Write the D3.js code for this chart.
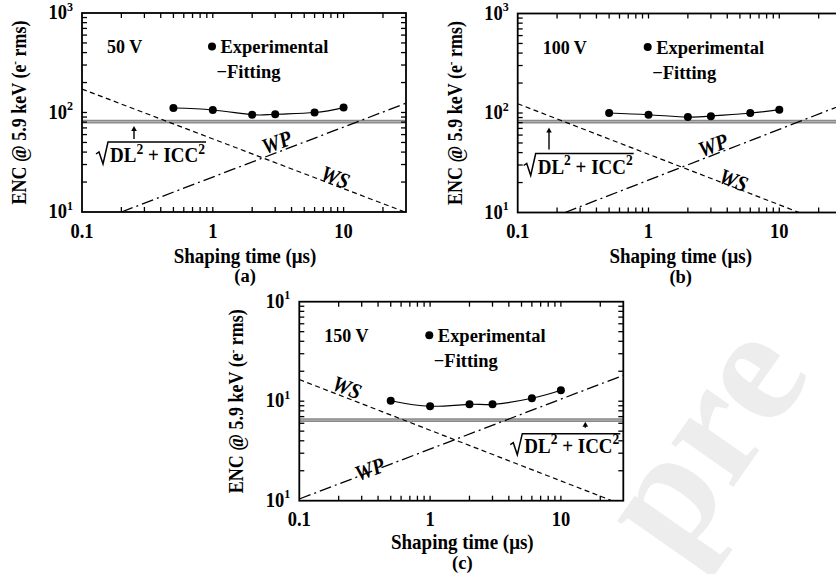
<!DOCTYPE html>
<html><head><meta charset="utf-8">
<script src="https://cdn.jsdelivr.net/npm/d3@7"></script>
<style>
body{margin:0;background:#fff}
svg{display:block}
text{font-family:"Liberation Serif","Times New Roman",serif;font-weight:bold;fill:#000}
</style>
</head><body>
<svg id="chart" width="836" height="574"></svg>
<script>
// ---------- data ----------
const shapingTimes = [0.5, 1, 2, 3, 6, 10];
const encA = [111, 106, 95, 96, 100, 112];
const encB = [100, 96, 91, 93, 100, 108];
const encC = [10.1, 8.9, 9.3, 9.3, 10.7, 12.9];
const dlIcc = [81, 82, 6.45];
const wsXA = [0.1, 30],   wsYA = [172, 9.9];
const wpXA = [0.2, 30],   wpYA = [10, 124];
const wsXB = [0.1, 14.2], wsYB = [124, 10];
const wpXB = [0.23, 30],  wpYB = [10, 120];
const wsXC = [0.1, 24.6], wsYC = [16.5, 1];
const wpXC = [0.1, 30],   wpYC = [1.04, 18.2];
const xTickValues = [0.1, 1, 10];
const xTickLabels = ["0.1", "1", "10"];
const yTicksAB = [10, 100, 1000], yExpAB = ["1", "2", "3"];
const yTicksC = [1, 10, 100],     yExpC = ["1", "1", "1"];
const panelTags = ["(a)", "(b)", "(c)"];
const voltages = ["50 V", "100 V", "150 V"];
const legendLabels = ["Experimental", "\u2212Fitting"];
const watermark = "pre";

// ---------- layout ----------
const W = 324, H = 199;
const svg = d3.select("#chart");

// faint watermark behind the chart
svg.append("text").attr("transform", "translate(678,566) rotate(-55)")
  .attr("font-family", "'Liberation Sans',Arial,sans-serif").attr("font-weight", "bold")
  .attr("font-size", 165).style("fill", "#ededed").text(watermark);

const panels = [
  {tx:82, ty:13, yt:yTicksAB, ye:yExpAB, ydom:[10,1000], enc:encA, hl:dlIcc[0],
   wsx:wsXA, wsy:wsYA, wpx:wpXA, wpy:wpYA, tag:panelTags[0], volt:voltages[0],
   sq:{x:14, base:149, top:129}, arrow:{x:52, y1:126, y2:113},
   wpL:{x:195, y:130}, wsL:{x:253, y:165}, titleY:50.5, tagY:70},
  {tx:517.7, ty:13.5, yt:yTicksAB, ye:yExpAB, ydom:[10,1000], enc:encB, hl:dlIcc[1],
   wsx:wsXB, wsy:wsYB, wpx:wpXB, wpy:wpYB, tag:panelTags[1], volt:voltages[1],
   sq:{x:6, base:160, top:140}, arrow:{x:31.3, y1:136, y2:114},
   wpL:{x:195.6, y:132.5}, wsL:{x:215.6, y:167.5}, titleY:50.5, tagY:70},
  {tx:299.3, ty:301.7, yt:yTicksC, ye:yExpC, ydom:[1,100], enc:encC, hl:dlIcc[2],
   wsx:wsXC, wsy:wsYC, wpx:wpXC, wpy:wpYC, tag:panelTags[2], volt:voltages[2],
   sq:{x:211, base:151, top:132}, arrow:{x:286, y1:126, y2:120},
   wpL:{x:70.7, y:168.3}, wsL:{x:47.4, y:86.6}, titleY:48.5, tagY:68.5}
];

const SY = 1.1; // vertical stretch of the reference lettering
function label(g, x, y, size, opts = {}) {
  const rot = opts.rotate ? ` rotate(${opts.rotate})` : "";
  const sy = opts.sy || SY;
  return g.append("text").attr("transform", `translate(${x},${y})${rot} scale(1,${sy})`)
    .attr("font-size", size).attr("text-anchor", opts.anchor || "start");
}

panels.forEach((p, i) => {
  const g = svg.append("g").attr("transform", `translate(${p.tx},${p.ty})`);
  const x = d3.scaleLog().domain([0.1, 30]).range([0, W]);
  const y = d3.scaleLog().domain(p.ydom).range([H, 0]);

  const clipId = "clip" + i;
  g.append("clipPath").attr("id", clipId).append("rect").attr("width", W).attr("height", H);
  const plot = g.append("g").attr("clip-path", `url(#${clipId})`);

  // DL/ICC horizontal line
  plot.append("line").attr("x1", 0).attr("x2", W).attr("y1", y(p.hl)).attr("y2", y(p.hl))
    .attr("stroke", "#8a8a8a").attr("stroke-width", 3.6);
  plot.append("line").attr("x1", 0).attr("x2", W).attr("y1", y(p.hl)).attr("y2", y(p.hl))
    .attr("stroke", "#b4b4b4").attr("stroke-width", 1);

  const ln = d3.line().x(d => x(d[0])).y(d => y(d[1]));
  // WS dashed
  plot.append("path").attr("d", ln(d3.zip(p.wsx, p.wsy)))
    .attr("fill", "none").attr("stroke", "#000").attr("stroke-width", 1.2).attr("stroke-dasharray", "5,3.5");
  // WP dash-dot
  plot.append("path").attr("d", ln(d3.zip(p.wpx, p.wpy)))
    .attr("fill", "none").attr("stroke", "#000").attr("stroke-width", 1.3).attr("stroke-dasharray", "12,4,2,4");
  // fitting curve
  const pts = d3.zip(shapingTimes, p.enc);
  plot.append("path").attr("d", ln.curve(d3.curveNatural)(pts))
    .attr("fill", "none").attr("stroke", "#000").attr("stroke-width", 1.2);
  plot.selectAll("circle.exp").data(pts).join("circle").attr("class", "exp")
    .attr("cx", d => x(d[0])).attr("cy", d => y(d[1])).attr("r", 4).attr("fill", "#000");

  // frame
  g.append("rect").attr("width", W).attr("height", H).attr("fill", "none")
    .attr("stroke", "#000").attr("stroke-width", 1.8);

  // ticks (inside, all four sides)
  const xAll = x.ticks().filter(v => v > 0.1 && v < 30);
  const tk = g.append("g").attr("stroke", "#000").attr("stroke-width", 1.3);
  xAll.forEach(v => {
    tk.append("line").attr("x1", x(v)).attr("x2", x(v)).attr("y1", H).attr("y2", H - 5);
    tk.append("line").attr("x1", x(v)).attr("x2", x(v)).attr("y1", 0).attr("y2", 5);
  });
  const yAll = y.ticks().filter(v => v > p.ydom[0] && v < p.ydom[1]);
  yAll.forEach(v => {
    tk.append("line").attr("x1", 0).attr("x2", 5).attr("y1", y(v)).attr("y2", y(v));
    tk.append("line").attr("x1", W).attr("x2", W - 5).attr("y1", y(v)).attr("y2", y(v));
  });

  // tick labels
  xTickValues.forEach((v, k) => {
    label(g, x(v), H + 25.5, 18.5, {anchor: "middle"}).text(xTickLabels[k]);
  });
  p.yt.forEach((v, k) => {
    const t = label(g, -9, y(v) + 6, 18.5, {anchor: "end"});
    t.append("tspan").text("10");
    t.append("tspan").attr("dy", -7.5).attr("font-size", 12).text(p.ye[k]);
  });

  // axis titles
  label(g, 163, H + p.titleY, 19, {anchor: "middle", sy: 1.05}).text("Shaping time (\u03bcs)");
  label(g, 163, H + p.tagY, 18.5, {anchor: "middle", sy: 1.0}).text(p.tag);
  const yt = label(g, -56, H / 2, 18, {anchor: "middle", rotate: -90, sy: 1.12});
  yt.append("tspan").text("ENC @ 5.9 keV (e");
  yt.append("tspan").attr("dy", -6).attr("font-size", 11).text("-");
  yt.append("tspan").attr("dy", 6).text(" rms)");

  // voltage + legend
  label(g, 25, 40, 18).text(p.volt);
  g.append("circle").attr("cx", 130).attr("cy", 33.5).attr("r", 4).attr("fill", "#000");
  label(g, 138.5, 40, 18.5, {sy: 1.05}).text(legendLabels[0]);
  label(g, 134.5, 65, 18.5, {sy: 1.05}).text(legendLabels[1]);

  // sqrt label
  const tx0 = p.sq.x + 14;
  const st = label(g, tx0, p.sq.base, 19, {sy: 1.05});
  st.append("tspan").text("DL");
  st.append("tspan").attr("dy", -8).attr("font-size", 13.5).text("2");
  st.append("tspan").attr("dy", 8).text(" + ICC");
  st.append("tspan").attr("dy", -8).attr("font-size", 13.5).text("2");
  const tw = st.node().getComputedTextLength();
  const sx = p.sq.x, b = p.sq.base;
  g.append("path").attr("d", `M${sx},${b-8} L${sx+3},${b-10} L${sx+7},${b+2} L${sx+12},${p.sq.top} H${tx0+tw+1}`)
    .attr("fill", "none").attr("stroke", "#000").attr("stroke-width", 1.5).attr("stroke-linejoin", "miter");

  // arrow
  const a = p.arrow;
  g.append("line").attr("x1", a.x).attr("x2", a.x).attr("y1", a.y1).attr("y2", a.y2 + 3)
    .attr("stroke", "#000").attr("stroke-width", 1.4);
  g.append("path").attr("d", `M${a.x},${a.y2} L${a.x-2.8},${a.y2+5} L${a.x+2.8},${a.y2+5} Z`).attr("fill", "#000");

  // WP / WS labels
  label(g, p.wpL.x, p.wpL.y, 20, {anchor: "middle", rotate: -21}).attr("font-style", "italic").attr("dy", 6).text("WP");
  label(g, p.wsL.x, p.wsL.y, 20, {anchor: "middle", rotate: 21}).attr("font-style", "italic").attr("dy", 6).text("WS");
});
</script>
</body></html>
